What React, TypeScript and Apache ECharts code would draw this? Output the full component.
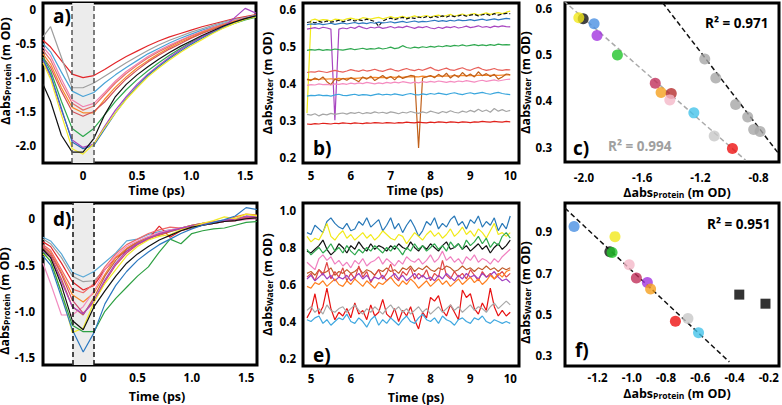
import React, { useEffect, useRef } from 'react';
import * as echarts from 'echarts';

const FONT = '"Open Sans", "DejaVu Sans", sans-serif';

// ---------- Panel a / d : early time (ps) ----------
const tEarly = [-0.37, -0.3, -0.2, -0.1, 0, 0.1, 0.2, 0.3, 0.4, 0.5, 0.6, 0.7, 0.8, 0.9, 1.0, 1.1, 1.2, 1.3, 1.4, 1.5, 1.6];
const shadeBounds = [-0.1, 0.1];

const aRed = [-0.45, -0.55, -0.75, -0.95, -1.0, -0.97, -0.88, -0.78, -0.69, -0.61, -0.53, -0.46, -0.4, -0.35, -0.3, -0.25, -0.21, -0.17, -0.13, -0.1, -0.07];
const aGray = [-0.4, -0.25, -0.7, -1.15, -1.15, -1.08, -0.98, -0.88, -0.78, -0.69, -0.6, -0.52, -0.45, -0.39, -0.33, -0.28, -0.23, -0.18, -0.14, -0.11, -0.08];
const aLightBlue = [-0.5, -0.62, -0.92, -1.2, -1.28, -1.22, -1.08, -0.96, -0.85, -0.75, -0.65, -0.57, -0.49, -0.42, -0.36, -0.3, -0.25, -0.2, -0.16, -0.12, -0.09];
const aPink = [-0.55, -0.68, -1.02, -1.33, -1.43, -1.38, -1.22, -1.05, -0.91, -0.8, -0.69, -0.6, -0.52, -0.45, -0.38, -0.32, -0.26, -0.21, -0.16, -0.12, -0.09];
const aSalmon = [-0.6, -0.74, -1.08, -1.38, -1.48, -1.42, -1.25, -1.08, -0.94, -0.82, -0.71, -0.62, -0.54, -0.46, -0.39, -0.33, -0.27, -0.22, -0.17, -0.13, -0.1];
const aOrange = [-0.65, -0.8, -1.15, -1.44, -1.52, -1.52, -1.32, -1.14, -0.99, -0.86, -0.75, -0.65, -0.56, -0.48, -0.41, -0.34, -0.28, -0.22, -0.17, -0.13, -0.1];
const aDarkSalmon = [-0.7, -0.85, -1.2, -1.5, -1.57, -1.5, -1.36, -1.18, -1.02, -0.89, -0.77, -0.67, -0.58, -0.5, -0.42, -0.35, -0.29, -0.23, -0.18, -0.14, -0.1];
const aGreen = [-0.7, -0.9, -1.35, -1.75, -1.87, -1.75, -1.55, -1.35, -1.18, -1.03, -0.9, -0.78, -0.67, -0.57, -0.48, -0.4, -0.33, -0.26, -0.2, -0.15, -0.11];
const aPurple = [-0.75, -0.98, -1.48, -1.92, -2.03, -1.98, -1.72, -1.48, -1.28, -1.1, -0.95, -0.82, -0.7, -0.59, -0.49, -0.4, -0.32, -0.25, -0.12, 0.02, -0.05];
const aSteel = [-0.73, -0.95, -1.45, -1.95, -2.05, -2.0, -1.76, -1.52, -1.31, -1.13, -0.97, -0.84, -0.72, -0.61, -0.51, -0.42, -0.34, -0.26, -0.19, -0.13, -0.09];
const aYellow = [-0.78, -1.02, -1.55, -2.05, -2.13, -1.98, -1.74, -1.52, -1.32, -1.15, -0.99, -0.86, -0.74, -0.63, -0.53, -0.44, -0.35, -0.27, -0.2, -0.14, -0.1];
const aBlack = [-1.1, -1.35, -1.85, -2.1, -2.1, -1.9, -1.55, -1.28, -1.1, -0.96, -0.84, -0.73, -0.63, -0.54, -0.46, -0.38, -0.31, -0.24, -0.18, -0.13, -0.09];

const dLightBlue = [-0.2, -0.24, -0.38, -0.58, -0.63, -0.57, -0.47, -0.37, -0.24, -0.22, -0.17, -0.14, -0.12, -0.1, -0.07, -0.05, -0.04, -0.02, 0.0, 0.02, 0.03];
const dGray = [-0.22, -0.27, -0.42, -0.62, -0.68, -0.67, -0.55, -0.42, -0.33, -0.26, -0.21, -0.17, -0.14, -0.11, -0.09, -0.07, -0.05, -0.03, -0.02, 0.0, 0.01];
const dRed = [-0.25, -0.3, -0.48, -0.68, -0.77, -0.72, -0.55, -0.42, -0.35, -0.27, -0.22, -0.08, -0.2, -0.13, -0.1, -0.07, -0.05, -0.03, -0.02, 0.0, 0.01];
const dOrange = [-0.3, -0.36, -0.58, -0.82, -0.9, -0.8, -0.6, -0.42, -0.32, -0.25, -0.2, -0.16, -0.13, -0.1, -0.08, -0.06, -0.03, -0.02, 0.02, 0.05, 0.04];
const dSalmon = [-0.28, -0.34, -0.55, -0.76, -0.8, -0.7, -0.52, -0.38, -0.28, -0.22, -0.16, -0.12, -0.09, -0.1, -0.07, -0.05, -0.03, -0.02, 0.0, 0.02, 0.03];
const dBrown = [-0.32, -0.4, -0.65, -0.95, -1.04, -0.85, -0.62, -0.45, -0.33, -0.25, -0.2, -0.18, -0.14, -0.1, -0.07, -0.05, -0.04, -0.03, -0.01, 0.01, 0.02];
const dPink = [-0.48, -0.7, -1.04, -1.04, -0.95, -0.78, -0.55, -0.4, -0.3, -0.24, -0.19, -0.15, -0.12, -0.1, -0.08, -0.06, -0.05, -0.03, -0.02, -0.01, 0.0];
const dCrimson = [-0.3, -0.38, -0.6, -0.88, -1.02, -0.9, -0.68, -0.5, -0.37, -0.28, -0.22, -0.17, -0.13, -0.11, -0.08, -0.06, -0.04, -0.02, -0.01, 0.01, 0.02];
const dPurple = [-0.35, -0.42, -0.68, -0.95, -1.03, -0.88, -0.66, -0.48, -0.35, -0.27, -0.21, -0.16, -0.13, -0.1, -0.08, -0.06, -0.04, -0.02, 0.0, 0.03, 0.02];
const dYellow = [-0.38, -0.45, -0.8, -1.23, -1.18, -0.9, -0.7, -0.55, -0.4, -0.3, -0.23, -0.19, -0.17, -0.12, -0.09, -0.05, -0.02, 0.02, 0.0, 0.05, 0.03];
const dBlack = [-0.33, -0.42, -0.72, -1.1, -1.2, -0.95, -0.78, -0.62, -0.48, -0.38, -0.3, -0.23, -0.18, -0.13, -0.09, -0.07, -0.05, -0.03, -0.02, 0.0, 0.01];
const dGreen = [-0.36, -0.46, -0.8, -1.15, -1.22, -1.22, -1.0, -0.86, -0.74, -0.62, -0.52, -0.36, -0.22, -0.27, -0.16, -0.13, -0.11, -0.1, -0.07, -0.04, -0.03];
const dSteel = [-0.4, -0.5, -0.85, -1.2, -1.44, -1.23, -0.92, -0.72, -0.57, -0.45, -0.36, -0.28, -0.22, -0.16, -0.11, -0.07, -0.04, -0.01, 0.03, 0.12, 0.1];

// ---------- Panel b / e : late time (ps) ----------
const tLate = [4.9, 5.0, 5.1, 5.2, 5.3, 5.4, 5.5, 5.6, 5.7, 5.8, 5.9, 6.0, 6.1, 6.2, 6.3, 6.4, 6.5, 6.6, 6.7, 6.8, 6.9, 7.0, 7.1, 7.2, 7.3, 7.4, 7.5, 7.6, 7.7, 7.8, 7.9, 8.0, 8.1, 8.2, 8.3, 8.4, 8.5, 8.6, 8.7, 8.8, 8.9, 9.0, 9.1, 9.2, 9.3, 9.4, 9.5, 9.6, 9.7, 9.8, 9.9, 10.0];

const bYellow = [0.32, 0.572, 0.575, 0.571, 0.574, 0.573, 0.57, 0.575, 0.574, 0.572, 0.576, 0.578, 0.575, 0.574, 0.579, 0.577, 0.575, 0.578, 0.58, 0.576, 0.579, 0.582, 0.578, 0.58, 0.583, 0.579, 0.581, 0.584, 0.58, 0.583, 0.585, 0.581, 0.584, 0.586, 0.582, 0.585, 0.588, 0.583, 0.586, 0.589, 0.585, 0.588, 0.59, 0.586, 0.589, 0.592, 0.588, 0.591, 0.593, 0.59, 0.594, 0.597];
const bBlack = [0.566, 0.568, 0.565, 0.569, 0.566, 0.57, 0.567, 0.569, 0.572, 0.568, 0.571, 0.574, 0.57, 0.573, 0.571, 0.575, 0.572, 0.569, 0.556, 0.57, 0.575, 0.578, 0.574, 0.577, 0.58, 0.576, 0.579, 0.577, 0.581, 0.578, 0.582, 0.579, 0.583, 0.58, 0.584, 0.581, 0.585, 0.582, 0.584, 0.587, 0.583, 0.586, 0.588, 0.584, 0.587, 0.589, 0.585, 0.59, 0.586, 0.589, 0.591, 0.59];
const bSteel = [0.56, 0.562, 0.561, 0.563, 0.56, 0.562, 0.564, 0.561, 0.563, 0.565, 0.562, 0.564, 0.566, 0.563, 0.565, 0.563, 0.566, 0.564, 0.567, 0.565, 0.566, 0.568, 0.565, 0.567, 0.569, 0.566, 0.568, 0.57, 0.567, 0.569, 0.568, 0.57, 0.572, 0.569, 0.571, 0.569, 0.572, 0.57, 0.573, 0.571, 0.572, 0.574, 0.571, 0.573, 0.575, 0.572, 0.574, 0.576, 0.573, 0.575, 0.577, 0.576];
const bPurple = [0.548, 0.55, 0.552, 0.549, 0.553, 0.551, 0.548, 0.3, 0.548, 0.551, 0.549, 0.553, 0.55, 0.556, 0.552, 0.549, 0.553, 0.551, 0.554, 0.55, 0.552, 0.555, 0.551, 0.554, 0.552, 0.556, 0.553, 0.55, 0.554, 0.552, 0.555, 0.551, 0.549, 0.553, 0.55, 0.554, 0.552, 0.555, 0.551, 0.553, 0.556, 0.552, 0.554, 0.557, 0.553, 0.555, 0.552, 0.556, 0.554, 0.557, 0.555, 0.554];
const bGreen = [0.49, 0.492, 0.491, 0.493, 0.49, 0.492, 0.491, 0.494, 0.492, 0.491, 0.493, 0.495, 0.492, 0.494, 0.496, 0.493, 0.495, 0.494, 0.497, 0.494, 0.496, 0.499, 0.495, 0.497, 0.503, 0.498, 0.496, 0.499, 0.497, 0.5, 0.498, 0.501, 0.499, 0.502, 0.5, 0.503, 0.501, 0.504, 0.502, 0.505, 0.502, 0.504, 0.506, 0.503, 0.505, 0.503, 0.506, 0.504, 0.507, 0.505, 0.506, 0.505];
const bSalmon = [0.43, 0.432, 0.431, 0.434, 0.432, 0.43, 0.433, 0.436, 0.433, 0.431, 0.434, 0.438, 0.435, 0.433, 0.437, 0.434, 0.436, 0.439, 0.435, 0.433, 0.437, 0.44, 0.436, 0.434, 0.438, 0.441, 0.437, 0.435, 0.439, 0.436, 0.44, 0.444, 0.438, 0.435, 0.439, 0.442, 0.437, 0.436, 0.44, 0.443, 0.438, 0.436, 0.441, 0.444, 0.439, 0.436, 0.438, 0.441, 0.437, 0.436, 0.438, 0.437];
const bBrown = [0.412, 0.408, 0.415, 0.41, 0.418, 0.405, 0.397, 0.412, 0.408, 0.414, 0.409, 0.416, 0.411, 0.405, 0.418, 0.412, 0.42, 0.408, 0.415, 0.422, 0.413, 0.419, 0.41, 0.421, 0.414, 0.418, 0.422, 0.42, 0.225, 0.415, 0.418, 0.422, 0.416, 0.425, 0.418, 0.428, 0.415, 0.424, 0.417, 0.43, 0.42, 0.426, 0.418, 0.432, 0.421, 0.427, 0.419, 0.425, 0.412, 0.418, 0.426, 0.424];
const bOrange = [0.41, 0.411, 0.412, 0.411, 0.413, 0.412, 0.413, 0.412, 0.414, 0.413, 0.414, 0.415, 0.414, 0.415, 0.416, 0.415, 0.416, 0.417, 0.416, 0.417, 0.416, 0.418, 0.417, 0.418, 0.417, 0.419, 0.418, 0.419, 0.418, 0.42, 0.419, 0.42, 0.419, 0.421, 0.42, 0.421, 0.42, 0.422, 0.421, 0.422, 0.421, 0.422, 0.421, 0.423, 0.422, 0.423, 0.422, 0.423, 0.422, 0.423, 0.424, 0.423];
const bPink = [0.395, 0.397, 0.396, 0.399, 0.397, 0.398, 0.396, 0.399, 0.398, 0.4, 0.398, 0.401, 0.399, 0.402, 0.4, 0.403, 0.401, 0.399, 0.402, 0.4, 0.403, 0.401, 0.404, 0.402, 0.405, 0.403, 0.401, 0.404, 0.402, 0.405, 0.403, 0.406, 0.404, 0.407, 0.405, 0.403, 0.406, 0.404, 0.407, 0.405, 0.408, 0.406, 0.404, 0.407, 0.409, 0.406, 0.408, 0.41, 0.407, 0.409, 0.411, 0.412];
const bLightBlue = [0.366, 0.368, 0.367, 0.369, 0.367, 0.368, 0.366, 0.369, 0.371, 0.368, 0.367, 0.369, 0.371, 0.368, 0.37, 0.369, 0.367, 0.37, 0.372, 0.369, 0.371, 0.369, 0.372, 0.37, 0.368, 0.371, 0.373, 0.37, 0.369, 0.372, 0.37, 0.373, 0.371, 0.374, 0.372, 0.37, 0.373, 0.375, 0.372, 0.37, 0.373, 0.375, 0.372, 0.374, 0.376, 0.373, 0.371, 0.374, 0.376, 0.373, 0.371, 0.37];
const bGray = [0.316, 0.314, 0.318, 0.312, 0.317, 0.315, 0.319, 0.316, 0.318, 0.32, 0.317, 0.321, 0.319, 0.322, 0.318, 0.321, 0.319, 0.323, 0.32, 0.322, 0.319, 0.323, 0.321, 0.318, 0.322, 0.32, 0.324, 0.321, 0.319, 0.323, 0.32, 0.325, 0.322, 0.319, 0.324, 0.321, 0.326, 0.322, 0.32, 0.325, 0.322, 0.327, 0.323, 0.33, 0.324, 0.328, 0.322, 0.332, 0.325, 0.329, 0.324, 0.327];
const bRed = [0.29, 0.289, 0.291, 0.29, 0.292, 0.291, 0.29, 0.292, 0.291, 0.293, 0.292, 0.291, 0.293, 0.292, 0.291, 0.293, 0.292, 0.294, 0.293, 0.292, 0.294, 0.293, 0.292, 0.294, 0.293, 0.295, 0.294, 0.293, 0.295, 0.294, 0.293, 0.295, 0.294, 0.296, 0.295, 0.294, 0.296, 0.295, 0.294, 0.296, 0.295, 0.294, 0.296, 0.295, 0.297, 0.296, 0.295, 0.297, 0.296, 0.295, 0.297, 0.296];

const eSteel = [0.88, 0.87, 0.92, 0.9, 0.88, 0.94, 0.96, 0.93, 0.91, 0.9, 0.93, 0.89, 0.9, 0.94, 0.92, 0.96, 0.91, 0.93, 0.95, 0.89, 0.92, 0.96, 0.9, 0.93, 0.88, 0.92, 0.95, 0.91, 0.86, 0.89, 0.94, 0.92, 0.96, 0.9, 0.93, 0.91, 0.95, 0.97, 0.92, 0.94, 0.9, 0.95, 0.93, 0.97, 0.91, 0.94, 0.92, 0.96, 0.89, 0.93, 0.9, 0.97];
const eYellow = [0.86, 0.83, 0.85, 0.84, 0.88, 0.93, 0.86, 0.84, 0.87, 0.89, 0.85, 0.87, 0.84, 0.86, 0.88, 0.85, 0.87, 0.84, 0.86, 0.89, 0.87, 0.85, 0.84, 0.87, 0.86, 0.82, 0.85, 0.88, 0.86, 0.84, 0.87, 0.89, 0.86, 0.88, 0.85, 0.87, 0.9, 0.86, 0.88, 0.91, 0.87, 0.89, 0.86, 0.9, 0.88, 0.85, 0.89, 0.93, 0.87, 0.88, 0.86, 0.88];
const eBlack = [0.78, 0.77, 0.79, 0.81, 0.84, 0.79, 0.76, 0.78, 0.82, 0.8, 0.77, 0.81, 0.79, 0.83, 0.8, 0.78, 0.82, 0.79, 0.81, 0.8, 0.78, 0.81, 0.79, 0.82, 0.8, 0.79, 0.83, 0.8, 0.78, 0.81, 0.79, 0.82, 0.8, 0.78, 0.81, 0.83, 0.79, 0.8, 0.82, 0.79, 0.81, 0.78, 0.8, 0.82, 0.79, 0.81, 0.77, 0.8, 0.82, 0.79, 0.81, 0.84];
const eGreen = [0.79, 0.76, 0.78, 0.8, 0.77, 0.79, 0.82, 0.78, 0.8, 0.77, 0.81, 0.78, 0.76, 0.79, 0.77, 0.8, 0.78, 0.81, 0.79, 0.77, 0.8, 0.78, 0.81, 0.79, 0.76, 0.8, 0.78, 0.82, 0.79, 0.81, 0.78, 0.8, 0.82, 0.79, 0.81, 0.78, 0.83, 0.8, 0.82, 0.79, 0.84, 0.81, 0.83, 0.86, 0.82, 0.85, 0.8, 0.83, 0.81, 0.86, 0.88, 0.85];
const ePink = [0.72, 0.7, 0.68, 0.74, 0.76, 0.73, 0.75, 0.71, 0.73, 0.7, 0.72, 0.69, 0.73, 0.71, 0.74, 0.7, 0.72, 0.73, 0.75, 0.71, 0.74, 0.72, 0.7, 0.73, 0.71, 0.75, 0.73, 0.72, 0.74, 0.71, 0.73, 0.76, 0.72, 0.74, 0.78, 0.73, 0.75, 0.72, 0.74, 0.71, 0.75, 0.73, 0.76, 0.72, 0.74, 0.73, 0.71, 0.74, 0.72, 0.75, 0.77, 0.79];
const eBrown = [0.66, 0.67, 0.65, 0.68, 0.66, 0.67, 0.69, 0.65, 0.67, 0.66, 0.68, 0.66, 0.67, 0.69, 0.66, 0.68, 0.67, 0.65, 0.68, 0.67, 0.69, 0.67, 0.68, 0.66, 0.69, 0.68, 0.7, 0.67, 0.69, 0.68, 0.7, 0.68, 0.67, 0.69, 0.68, 0.7, 0.69, 0.67, 0.68, 0.7, 0.68, 0.69, 0.67, 0.69, 0.68, 0.7, 0.68, 0.69, 0.67, 0.69, 0.68, 0.69];
const eSalmon = [0.64, 0.66, 0.62, 0.68, 0.65, 0.72, 0.63, 0.67, 0.64, 0.69, 0.62, 0.66, 0.63, 0.7, 0.64, 0.67, 0.61, 0.65, 0.68, 0.63, 0.66, 0.71, 0.64, 0.62, 0.67, 0.65, 0.69, 0.63, 0.66, 0.64, 0.68, 0.62, 0.66, 0.64, 0.73, 0.65, 0.63, 0.67, 0.64, 0.66, 0.63, 0.68, 0.65, 0.62, 0.67, 0.64, 0.66, 0.63, 0.65, 0.67, 0.64, 0.66];
const ePurple = [0.63, 0.65, 0.62, 0.64, 0.66, 0.63, 0.65, 0.62, 0.64, 0.63, 0.65, 0.62, 0.64, 0.66, 0.63, 0.65, 0.62, 0.64, 0.63, 0.65, 0.62, 0.64, 0.66, 0.63, 0.65, 0.62, 0.64, 0.66, 0.63, 0.65, 0.63, 0.64, 0.62, 0.65, 0.63, 0.66, 0.64, 0.62, 0.65, 0.63, 0.66, 0.64, 0.65, 0.63, 0.66, 0.64, 0.65, 0.67, 0.64, 0.62, 0.63, 0.61];
const eOrange = [0.59, 0.58, 0.61, 0.6, 0.62, 0.59, 0.61, 0.63, 0.6, 0.59, 0.62, 0.6, 0.63, 0.61, 0.59, 0.62, 0.6, 0.58, 0.61, 0.6, 0.62, 0.64, 0.61, 0.59, 0.62, 0.6, 0.63, 0.61, 0.58, 0.6, 0.62, 0.59, 0.61, 0.63, 0.6, 0.62, 0.59, 0.61, 0.63, 0.6, 0.62, 0.64, 0.61, 0.63, 0.6, 0.62, 0.65, 0.63, 0.66, 0.64, 0.67, 0.68];
const eRed = [0.42, 0.46, 0.55, 0.44, 0.48, 0.58, 0.47, 0.41, 0.45, 0.43, 0.47, 0.42, 0.5, 0.44, 0.46, 0.41, 0.49, 0.43, 0.45, 0.52, 0.44, 0.42, 0.47, 0.4, 0.46, 0.43, 0.48, 0.41, 0.36, 0.45, 0.42, 0.53, 0.51, 0.54, 0.46, 0.43, 0.49, 0.45, 0.41, 0.57, 0.53, 0.55, 0.47, 0.44, 0.5, 0.46, 0.58, 0.48, 0.43, 0.46, 0.43, 0.45];
const eGray = [0.46, 0.48, 0.45, 0.47, 0.44, 0.49, 0.46, 0.45, 0.47, 0.48, 0.45, 0.47, 0.49, 0.46, 0.44, 0.47, 0.45, 0.48, 0.46, 0.44, 0.47, 0.49, 0.46, 0.48, 0.45, 0.47, 0.44, 0.46, 0.48, 0.45, 0.47, 0.44, 0.46, 0.48, 0.45, 0.47, 0.49, 0.46, 0.48, 0.45, 0.47, 0.49, 0.46, 0.48, 0.47, 0.45, 0.48, 0.5, 0.47, 0.49, 0.51, 0.49];
const eLightBlue = [0.41, 0.4, 0.42, 0.43, 0.39, 0.41, 0.38, 0.4, 0.42, 0.41, 0.44, 0.4, 0.39, 0.42, 0.4, 0.37, 0.41, 0.43, 0.38, 0.41, 0.39, 0.42, 0.4, 0.38, 0.41, 0.43, 0.4, 0.39, 0.42, 0.44, 0.41, 0.4, 0.42, 0.39, 0.43, 0.41, 0.4, 0.38, 0.41, 0.42, 0.4, 0.39, 0.42, 0.41, 0.43, 0.4, 0.39, 0.41, 0.4, 0.39, 0.4, 0.39];

// ---------- Panel c : correlation ----------
const cX = [-2.005, -2.035, -1.93, -1.91, -1.77, -1.51, -1.47, -1.4, -1.41, -1.245, -1.105, -0.98];
const cY = [0.577, 0.579, 0.566, 0.541, 0.499, 0.438, 0.418, 0.416, 0.402, 0.374, 0.324, 0.297];
const cColors = ['#111111', '#f2e81a', '#4a90e2', '#a335e0', '#22c42a', '#c0305a', '#f5a01e', '#b52d2d', '#f4b8c8', '#45c3ea', '#c8c8c8', '#ee1111'];
const cGrayX = [-1.17, -1.094, -0.958, -0.875, -0.834, -0.79];
const cGrayY = [0.49, 0.449, 0.392, 0.365, 0.338, 0.334];
const cFitColoredX = [-2.14, -0.89];
const cFitColoredY = [0.616, 0.272];
const cFitGrayX = [-1.46, -0.66];
const cFitGrayY = [0.612, 0.285];

// ---------- Panel f : correlation ----------
const fX = [-1.337, -1.098, -1.128, -1.115, -1.015, -0.973, -0.909, -0.89, -0.745, -0.672, -0.61];
const fY = [0.926, 0.877, 0.804, 0.8, 0.741, 0.676, 0.655, 0.623, 0.467, 0.48, 0.411];
const fColors = ['#4a90e2', '#f2e81a', '#111111', '#22c42a', '#f4b8c8', '#c0305a', '#a335e0', '#f5a01e', '#ee1111', '#c8c8c8', '#45c3ea'];
const fSquareX = [-0.372, -0.219];
const fSquareY = [0.596, 0.552];
const fFitX = [-1.39, -0.43];
const fFitY = [1.015, 0.27];

// ---------- tick labels ----------
const ticksEarlyX = [0, 0.5, 1.0, 1.5];
const ticksLateX = [5, 6, 7, 8, 9, 10];
const ticksAY = [-2.0, -1.5, -1.0, -0.5, 0];
const ticksBY = [0.2, 0.3, 0.4, 0.5, 0.6];
const ticksCX = [-2.0, -1.6, -1.2, -0.8];
const ticksCY = [0.3, 0.4, 0.5, 0.6];
const ticksDY = [-1.5, -1.0, -0.5, 0];
const ticksEY = [0.2, 0.4, 0.6, 0.8, 1.0];
const ticksFX = [-1.2, -1.0, -0.8, -0.6, -0.4, -0.2];
const ticksFY = [0.3, 0.5, 0.7, 0.9];

const rSquaredC = ['R² = 0.971', 'R² = 0.994'];
const rSquaredF = 'R² = 0.951';
const panelLetters = ['a)', 'b)', 'c)', 'd)', 'e)', 'f)'];

const zip = (xs: number[], ys: number[]) => xs.map((x, i) => [x, ys[i]]);
const fmt1 = (v: number) => (Math.abs(v) < 1e-9 ? '0' : v.toFixed(1));
const fmtInt = (v: number) => String(Math.round(v));

const TICK_SIZE = 11.5;
const nameRich = {
  n: { fontSize: 12.5, fontWeight: 'bold', fontFamily: FONT, color: '#000', lineHeight: 13, verticalAlign: 'middle' },
  s: { fontSize: 8.5, fontWeight: 'bold', fontFamily: FONT, color: '#000', lineHeight: 6, verticalAlign: 'bottom' },
};
const protName = '{n|Δabs}{s|Protein}{n| (m OD)}';
const waterName = '{n|Δabs}{s|Water}{n| (m OD)}';

function mkX(i: number, min: number, max: number, ticks: number[], fmt: any, name: string, nameGap: number, margin: number, pad: number[], rich: boolean) {
  return {
    type: 'value', gridIndex: i, min, max,
    axisLine: { show: false }, axisTick: { show: false }, splitLine: { show: false },
    axisLabel: { customValues: ticks, formatter: fmt, color: '#000', fontFamily: FONT, fontWeight: 'bold', fontSize: TICK_SIZE, margin },
    name, nameLocation: 'middle', nameGap,
    nameTextStyle: rich
      ? { rich: nameRich, padding: pad }
      : { fontSize: 12.5, fontWeight: 'bold', fontFamily: FONT, color: '#000', padding: pad },
  };
}
function mkY(i: number, min: number, max: number, ticks: number[], name: string, nameGap: number, margin: number, pad: number[]) {
  return {
    type: 'value', gridIndex: i, min, max,
    axisLine: { show: false }, axisTick: { show: false }, splitLine: { show: false },
    axisLabel: { customValues: ticks, formatter: fmt1, color: '#000', fontFamily: FONT, fontWeight: 'bold', fontSize: TICK_SIZE, margin },
    name, nameLocation: 'middle', nameGap,
    nameTextStyle: { rich: nameRich, padding: pad },
  };
}

function lines(i: number, xs: number[], list: [number[], string][], dashedIdx = -1) {
  return list.map(([ys, color], k) => ({
    type: 'line', xAxisIndex: i, yAxisIndex: i, data: zip(xs, ys), symbol: 'none', silent: true, z: 3,
    lineStyle: { color, width: 1.2, type: k === dashedIdx ? [4, 2] : 'solid' }, itemStyle: { color },
  }));
}

function shade(i: number, lineColor: string) {
  return {
    type: 'line', xAxisIndex: i, yAxisIndex: i, data: [], silent: true, z: 1,
    markArea: { silent: true, itemStyle: { color: '#ececec' }, data: [[{ xAxis: shadeBounds[0] }, { xAxis: shadeBounds[1] }]] },
    markLine: {
      silent: true, symbol: 'none', label: { show: false },
      lineStyle: { color: lineColor, width: 1.5, type: [5, 3] },
      data: [{ xAxis: shadeBounds[0] }, { xAxis: shadeBounds[1] }],
    },
  };
}

function scatter(i: number, xs: number[], ys: number[], colors: string[], size: number, symbol = 'circle') {
  return {
    type: 'scatter', xAxisIndex: i, yAxisIndex: i, symbol, symbolSize: size, silent: true, z: 5,
    data: xs.map((x, k) => ({ value: [x, ys[k]], itemStyle: { color: colors[k] } })),
  };
}

function fitLine(i: number, xs: number[], ys: number[], color: string) {
  return {
    type: 'line', xAxisIndex: i, yAxisIndex: i, data: zip(xs, ys), symbol: 'none', silent: true, z: 4,
    lineStyle: { color, width: 1.5, type: [5, 3] },
  };
}

function txt(x: number, y: number, text: string, size: number, color = '#000', align = 'left') {
  return {
    type: 'text', x, y, silent: true, z: 10,
    style: { text, fill: color, fontSize: size, fontWeight: 'bold', fontFamily: FONT, align, verticalAlign: 'middle', textAlign: align, textVerticalAlign: 'middle' },
  };
}

function buildOption() {
  const gridBox = [
    { left: 43, top: 3, width: 213, height: 160 },
    { left: 303, top: 3, width: 216, height: 160 },
    { left: 565, top: 3, width: 214, height: 159 },
    { left: 43, top: 203, width: 214, height: 162 },
    { left: 303, top: 203, width: 216, height: 163 },
    { left: 565, top: 203, width: 214, height: 163 },
  ];
  const grid = gridBox.map((g) => ({ ...g, show: true, borderColor: '#000', borderWidth: 3, backgroundColor: 'transparent', containLabel: false, outerBoundsMode: 'none' }));

  const xAxis = [
    mkX(0, -0.37, 1.6, ticksEarlyX, fmt1, 'Time (ps)', 20.5, 6, [0, 0, 0, 14], false),
    mkX(1, 4.8, 10.22, ticksLateX, fmtInt, 'Time (ps)', 20.5, 6, [0, 0, 0, 8], false),
    mkX(2, -2.13, -0.66, ticksCX, fmt1, protName, 23.5, 9, [0, 0, 0, 10], true),
    mkX(3, -0.37, 1.6, ticksEarlyX, fmt1, 'Time (ps)', 25, 6, [0, 0, 0, 14], false),
    mkX(4, 4.8, 10.22, ticksLateX, fmtInt, 'Time (ps)', 25, 6, [0, 0, 0, 10], false),
    mkX(5, -1.39, -0.14, ticksFX, fmt1, protName, 20.5, 5, [0, 0, 0, 10], true),
  ];
  const yAxis = [
    mkY(0, -2.26, 0.1, ticksAY, protName, 26, 7, [0, 0, 0, 24]),
    mkY(1, 0.184, 0.619, ticksBY, waterName, 29.5, 7, [0, 0, 0, 0]),
    mkY(2, 0.268, 0.611, ticksCY, waterName, 30.5, 13, [0, 0, 0, 0]),
    mkY(3, -1.58, 0.17, ticksDY, protName, 26, 8, [0, 34, 0, 0]),
    mkY(4, 0.16, 1.04, ticksEY, waterName, 29.5, 7, [0, 0, 0, 0]),
    mkY(5, 0.25, 1.04, ticksFY, waterName, 30.5, 13, [0, 16, 0, 0]),
  ];

  const series: any[] = [
    shade(0, '#555555'),
    ...lines(0, tEarly, [
      [aRed, '#e3262a'], [aGray, '#9e9e9e'], [aLightBlue, '#4aa3d6'], [aPink, '#f07fae'], [aSalmon, '#e8706a'],
      [aOrange, '#f7892a'], [aDarkSalmon, '#d2525a'], [aGreen, '#2fa84f'], [aPurple, '#a845c0'], [aSteel, '#2c72b8'],
      [aYellow, '#f2ea2a'], [aBlack, '#111111'],
    ]),
    ...lines(1, tLate, [
      [bYellow, '#f2ea1a'], [bBlack, '#111111'], [bSteel, '#2c78c0'], [bPurple, '#a845c0'], [bGreen, '#2fa84f'],
      [bSalmon, '#e8605a'], [bOrange, '#f7892a'], [bBrown, '#c0601a'], [bPink, '#f58cc0'], [bLightBlue, '#3aa6dd'],
      [bGray, '#a6a6a6'], [bRed, '#e0201a'],
    ], 1),
    fitLine(2, cFitColoredX, cFitColoredY, '#aaaaaa'),
    fitLine(2, cFitGrayX, cFitGrayY, '#111111'),
    scatter(2, cX, cY, cColors, 11),
    scatter(2, cGrayX, cGrayY, cGrayX.map(() => '#a6a6a6'), 11),
    shade(3, '#111111'),
    ...lines(3, tEarly, [
      [dLightBlue, '#5aa9d6'], [dGray, '#a0a0a0'], [dRed, '#e3262a'], [dOrange, '#f7892a'], [dSalmon, '#ef6a6a'],
      [dBrown, '#c8643c'], [dPink, '#f28cc0'], [dCrimson, '#d04a70'], [dPurple, '#a845c0'], [dYellow, '#f2ea2a'],
      [dBlack, '#111111'], [dGreen, '#2ea043'], [dSteel, '#2c78c0'],
    ]),
    ...lines(4, tLate, [
      [eSteel, '#2878b8'], [eYellow, '#f2ea1a'], [eBlack, '#111111'], [eGreen, '#2fa84f'], [ePink, '#f080c0'],
      [eBrown, '#c05a28'], [eSalmon, '#e04848'], [ePurple, '#a040c0'], [eOrange, '#ff8020'], [eRed, '#e81010'],
      [eGray, '#a8a8a8'], [eLightBlue, '#40a8e0'],
    ]),
    fitLine(5, fFitX, fFitY, '#111111'),
    scatter(5, fX, fY, fColors, 11),
    scatter(5, fSquareX, fSquareY, ['#000000', '#000000'], 10, 'rect'),
  ];

  const graphic = [
    txt(53, 16, panelLetters[0], 19),
    txt(313, 148, panelLetters[1], 19),
    txt(573, 148, panelLetters[2], 19),
    txt(53, 219, panelLetters[3], 19),
    txt(313, 355, panelLetters[4], 19),
    txt(575, 350, panelLetters[5], 19),
    txt(705, 23, rSquaredC[0], 13.5),
    txt(608, 146, rSquaredC[1], 13.5, '#a0a0a0'),
    txt(707, 224, rSquaredF, 13.5),
  ];

  return { animation: false, backgroundColor: '#ffffff', grid, xAxis, yAxis, series, graphic };
}

export default function App() {
  const ref = useRef<HTMLDivElement>(null);
  useEffect(() => {
    const chart = echarts.init(ref.current as HTMLDivElement, null, { renderer: 'svg' });
    chart.setOption(buildOption() as any);
    return () => chart.dispose();
  }, []);
  return <div ref={ref} style={{ position: 'fixed', left: 0, top: 0, width: 782, height: 405 }} />;
}
